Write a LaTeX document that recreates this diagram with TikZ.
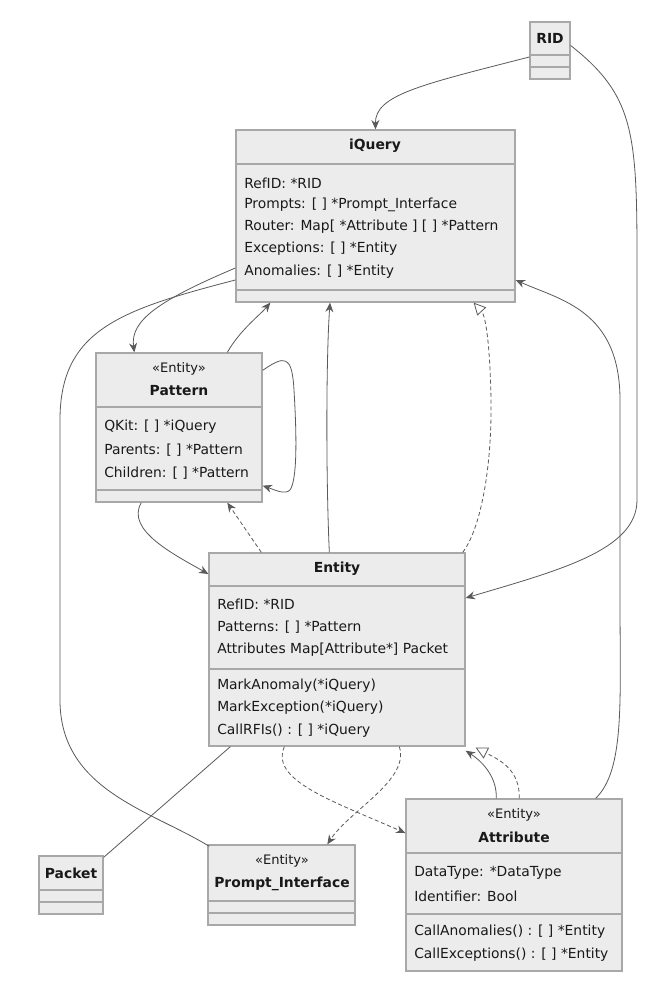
\documentclass[tikz,border=0pt]{standalone}
\usepackage{fontspec}
\setmainfont{DejaVu Sans}
\usetikzlibrary{arrows.meta,fit,calc}
\definecolor{boxfill}{HTML}{ECECEC}
\definecolor{boxline}{HTML}{A8A8A8}
\definecolor{edge}{HTML}{5A5A5A}
\tikzset{
  cls/.style={draw=boxline,fill=boxfill,line width=1pt,inner sep=0pt},
  sep/.style={draw=boxline,line width=1pt},
  txt/.style={anchor=west,inner sep=0pt,font=\fontsize{10.4}{12}\selectfont,text=black!90},
  ttl/.style={inner sep=0pt,font=\fontsize{10.4}{12}\selectfont\bfseries,text=black!90},
  ster/.style={inner sep=0pt,font=\fontsize{9.8}{12}\selectfont,text=black!90},
  rel/.style={draw=edge,line width=0.6pt,-{Stealth[length=7pt,width=6pt]}},
  dep/.style={rel,densely dashed},
  real/.style={draw=edge,line width=0.6pt,densely dashed,-{Triangle[open,length=9pt,width=9pt]}},
  plain/.style={draw=edge,line width=0.6pt}
}
\begin{document}
\begin{tikzpicture}[x=0.75pt,y=-0.75pt]
\path[use as bounding box,fill=white](0,0)rectangle(671,983);
% classes
\node[cls,fit={(530,22)(570,79)}](rid){};
\draw[sep](530,55)--(570,55)(530,67)--(570,67);
\node[ttl](ridt)at(550,38){RID};

\node[cls,fit={(236,130)(515,302)}](iq){};
\draw[sep](236,164)--(515,164)(236,290)--(515,290);
\node[ttl](iqt)at(375,146){iQuery};
\node[txt](iq1)at(244,183){RefID: *RID};
\node[txt](iq2)at(244,205){Prompts: [ ] *Prompt\_Interface};
\node[txt](iq3)at(244,227){Router: Map[ *Attribute ] [ ] *Pattern};
\node[txt](iq4)at(244,249){Exceptions: [ ] *Entity};
\node[txt](iq5)at(244,272){Anomalies: [ ] *Entity};

\node[cls,fit={(96,353)(262,502)}](pat){};
\draw[sep](96,407)--(262,407)(96,490)--(262,490);
\node[ster](pats)at(179,369){«Entity»};
\node[ttl](patt)at(179,391){Pattern};
\node[txt](pat1)at(104,427){QKit: [ ] *iQuery};
\node[txt](pat2)at(104,450){Parents: [ ] *Pattern};
\node[txt](pat3)at(104,473){Children: [ ] *Pattern};

\node[cls,fit={(209,553)(465,746)}](ent){};
\draw[sep](209,586)--(465,586)(209,669)--(465,669);
\node[ttl](entt)at(337,569){Entity};
\node[txt](ent1)at(217,604){RefID: *RID};
\node[txt](ent2)at(217,627){Patterns: [ ] *Pattern};
\node[txt](ent3)at(217,650){Attributes Map[Attribute*] Packet};
\node[txt](ent4)at(217,686){MarkAnomaly(*iQuery)};
\node[txt](ent5)at(217,708){MarkException(*iQuery)};
\node[txt](ent6)at(217,731){CallRFIs() : [ ] *iQuery};

\node[cls,fit={(406,799)(622,971)}](att){};
\draw[sep](406,853)--(622,853)(406,914)--(622,914);
\node[ster](atts)at(514,815){«Entity»};
\node[ttl](attt)at(514,837){Attribute};
\node[txt](att1)at(414,873){DataType: *DataType};
\node[txt](att2)at(414,896){Identifier: Bool};
\node[txt](att3)at(414,932){CallAnomalies() : [ ] *Entity};
\node[txt](att4)at(414,955){CallExceptions() : [ ] *Entity};

\node[cls,fit={(39,856)(103,914)}](pkt){};
\draw[sep](39,890)--(103,890)(39,902)--(103,902);
\node[ttl](pktt)at(71,873){Packet};

\node[cls,fit={(208,845)(355,925)}](pi){};
\draw[sep](208,901)--(355,901)(208,913)--(355,913);
\node[ster](pis)at(282,861){«Entity»};
\node[ttl](pit)at(282,884){Prompt\_Interface};

% relations
\draw[rel](rid.west|-0,57)..controls(420,85)and(375,95)..(iq.north);
\draw[rel]($(rid.east)+(0,-5)$)..controls(640,100)and(637,140)..(637,300)
  --(637,500)..controls(637,550)and(560,570)..(ent.east|-0,598);
\draw[rel](iq.west|-0,268)..controls(160,300)and(130,320)..($(pat.north west)+(39,0)$);
\draw[rel]($(pat.north west)+(132,0)$)..controls(240,330)and(260,315)..($(iq.south west)+(35,0)$);
\draw[rel]($(pat.north east)+(0,18)$)..controls(285,355)and(292,355)..(294,390)
  ..controls(297,440)and(297,480)..(290,490)..controls(285,495)and(275,490)..($(pat.south east)+(0,-17)$);
\draw[rel]($(pat.south west)+(46,0)$)..controls(125,530)and(175,555)..(ent.west|-0,574);
\draw[dep]($(ent.north west)+(53,0)$)--($(pat.south west)+(132,0)$);
\draw[rel]($(ent.north west)+(121,0)$)..controls(326,480)and(326,360)..(iq.south west-|330,0);
\draw[real]($(ent.north east)+(-3,0)$)..controls(480,530)and(492,470)..(491,400)
  ..controls(490,340)and(485,315)..($(iq.south east)+(-42,0)$);
\draw[plain](iq.west|-0,280)..controls(120,310)and(60,330)..(60,420)
  --(60,700)..controls(60,790)and(150,810)..($(pi.north west)+(2,2)$);
\draw[plain]($(ent.south west)+(22,0)$)--($(pkt.north east)+(0,2)$);
\draw[dep]($(ent.south west)+(76,0)$)..controls(270,780)and(330,800)..(att.west|-0,833);
\draw[dep]($(ent.south west)+(191,0)$)..controls(410,780)and(350,810)..($(pi.north west)+(120,0)$);
\draw[rel]($(att.north west)+(91,0)$)..controls(497,775)and(480,760)..($(ent.south east)+(0,4)$);
\draw[real]($(att.north west)+(114,0)$)..controls(520,770)and(500,760)..($(ent.south east)+(10,1)$);
\draw[rel]($(att.north east)+(-27,0)$)..controls(625,770)and(620,700)..(620,600)
  --(620,400)..controls(620,310)and(560,300)..(iq.east|-0,280);
\end{tikzpicture}
\end{document}
